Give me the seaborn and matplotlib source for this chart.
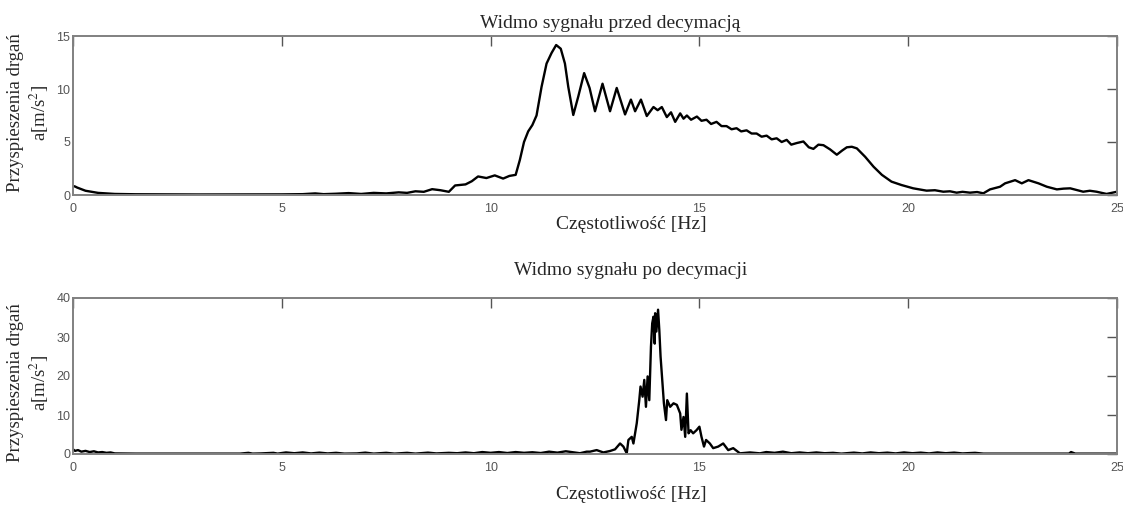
import matplotlib
matplotlib.use("Agg")
import matplotlib.pyplot as plt
import seaborn as sns
import pandas as pd

# ---------------- data ----------------
top_freq = [0.0, 0.05, 0.1, 0.2, 0.3, 0.45, 0.6, 0.8, 1.0, 1.5, 2.0, 3.0, 4.0, 5.0,
            5.5, 5.8, 6.0, 6.3, 6.6, 6.9, 7.2, 7.5, 7.8, 8.0, 8.2, 8.4, 8.6, 8.8,
            9.0, 9.15, 9.4, 9.55, 9.7, 9.9, 10.1, 10.3, 10.45, 10.6, 10.7, 10.8,
            10.9, 11.0, 11.1, 11.22, 11.34, 11.46, 11.57, 11.68, 11.78, 11.86,
            11.98, 12.1, 12.24, 12.37, 12.5, 12.68, 12.86, 13.02, 13.22, 13.36,
            13.46, 13.6, 13.74, 13.9, 14.0, 14.1, 14.22, 14.32, 14.42, 14.54,
            14.62, 14.7, 14.8, 14.94, 15.05, 15.17, 15.28, 15.41, 15.53, 15.65,
            15.77, 15.89, 16.0, 16.13, 16.25, 16.37, 16.49, 16.61, 16.73, 16.85,
            16.97, 17.09, 17.2, 17.33, 17.49, 17.62, 17.73, 17.85, 17.97, 18.13,
            18.29, 18.42, 18.53, 18.65, 18.77, 18.97, 19.17, 19.37, 19.6, 19.84,
            20.12, 20.44, 20.64, 20.84, 21.0, 21.16, 21.3, 21.48, 21.65, 21.8,
            21.96, 22.2, 22.32, 22.56, 22.72, 22.88, 23.12, 23.32, 23.56, 23.72,
            23.88, 24.05, 24.19, 24.35, 24.51, 24.75, 25.0]
top_amp = [0.85, 0.8, 0.7, 0.55, 0.4, 0.3, 0.2, 0.15, 0.1, 0.07, 0.06, 0.05, 0.05, 0.06,
           0.08, 0.15, 0.08, 0.12, 0.18, 0.1, 0.2, 0.15, 0.25, 0.2, 0.35, 0.3, 0.55, 0.45,
           0.3, 0.9, 1.0, 1.3, 1.75, 1.6, 1.85, 1.55, 1.8, 1.9, 3.3, 5.0,
           6.0, 6.6, 7.5, 10.2, 12.4, 13.4, 14.15, 13.8, 12.4, 10.2,
           7.55, 9.3, 11.5, 10.1, 7.9, 10.5, 7.9, 10.1, 7.6, 9.0,
           7.9, 9.0, 7.45, 8.3, 8.0, 8.3, 7.35, 7.8, 6.9, 7.7,
           7.2, 7.5, 7.1, 7.4, 7.0, 7.1, 6.7, 6.9, 6.5, 6.5,
           6.2, 6.3, 6.0, 6.1, 5.8, 5.8, 5.5, 5.6, 5.25, 5.35,
           5.0, 5.2, 4.75, 4.9, 5.05, 4.5, 4.35, 4.75, 4.7, 4.3,
           3.8, 4.2, 4.5, 4.55, 4.4, 3.6, 2.67, 1.9, 1.26, 0.94,
           0.63, 0.41, 0.45, 0.31, 0.35, 0.22, 0.3, 0.22, 0.28, 0.16,
           0.53, 0.78, 1.1, 1.4, 1.1, 1.4, 1.1, 0.78, 0.53, 0.6,
           0.63, 0.45, 0.31, 0.4, 0.31, 0.1, 0.31]

bot_freq = [0.0, 0.05, 0.12, 0.2, 0.3, 0.4, 0.5, 0.6, 0.7, 0.8, 0.9, 1.0, 1.5, 2.0,
            3.0, 4.0, 4.2, 4.3, 4.5, 4.8, 4.9, 5.1, 5.3, 5.5, 5.7, 5.9, 6.1, 6.3,
            6.5, 6.8, 7.0, 7.2, 7.5, 7.7, 8.0, 8.2, 8.5, 8.7, 9.0, 9.2, 9.4, 9.6,
            9.8, 10.0, 10.2, 10.4, 10.6, 10.8, 11.0, 11.2, 11.4, 11.6, 11.8, 12.0,
            12.14, 12.3, 12.38, 12.54, 12.7, 12.86, 12.98, 13.1, 13.18, 13.26,
            13.3, 13.38, 13.42, 13.5, 13.56, 13.59, 13.64, 13.68, 13.72, 13.76,
            13.8, 13.84, 13.87, 13.9, 13.93, 13.94, 13.97, 14.01, 14.04, 14.07,
            14.11, 14.15, 14.2, 14.23, 14.3, 14.38, 14.46, 14.54, 14.57, 14.62,
            14.66, 14.7, 14.74, 14.79, 14.85, 14.93, 15.0, 15.05, 15.11, 15.16,
            15.25, 15.33, 15.45, 15.57, 15.69, 15.81, 15.97, 16.21, 16.45, 16.6,
            16.8, 17.0, 17.2, 17.4, 17.6, 17.8, 18.0, 18.2, 18.4, 18.7, 18.9,
            19.1, 19.3, 19.5, 19.7, 19.9, 20.1, 20.3, 20.5, 20.7, 20.9, 21.1,
            21.3, 21.6, 21.8, 22.0, 23.0, 23.85, 23.9, 24.0, 25.0]
bot_amp = [1.2, 0.8, 1.0, 0.6, 0.8, 0.5, 0.7, 0.4, 0.5, 0.3, 0.4, 0.15, 0.1, 0.1,
           0.1, 0.1, 0.3, 0.1, 0.15, 0.3, 0.1, 0.4, 0.2, 0.4, 0.15, 0.35, 0.15, 0.3,
           0.1, 0.15, 0.35, 0.1, 0.3, 0.1, 0.3, 0.1, 0.35, 0.15, 0.3, 0.2, 0.4, 0.2,
           0.5, 0.3, 0.5, 0.25, 0.5, 0.3, 0.45, 0.25, 0.6, 0.35, 0.7, 0.4,
           0.2, 0.6, 0.6, 1.0, 0.4, 0.77, 1.2, 2.7, 1.9, 0.17,
           3.6, 4.4, 2.7, 7.9, 13.8, 17.3, 14.7, 19.0, 12.1, 19.9,
           13.8, 27.5, 33.5, 35.2, 28.3, 36.1, 31.4, 37.0, 31.8, 25.0,
           19.0, 13.0, 8.7, 13.8, 12.1, 13.0, 12.6, 10.4, 6.2, 9.5,
           4.4, 15.5, 5.3, 6.1, 5.3, 6.1, 7.0, 4.4, 1.9, 3.6,
           2.7, 1.5, 1.9, 2.7, 1.0, 1.5, 0.17, 0.4, 0.17, 0.5,
           0.3, 0.6, 0.2, 0.4, 0.2, 0.4, 0.2, 0.3, 0.1, 0.35, 0.15,
           0.4, 0.2, 0.35, 0.15, 0.4, 0.2, 0.35, 0.15, 0.4, 0.2, 0.35,
           0.15, 0.3, 0.1, 0.1, 0.1, 0.1, 0.5, 0.1, 0.1]

x_ticks = [0, 5, 10, 15, 20, 25]
top_yticks = [0, 5, 10, 15]
bot_yticks = [0, 10, 20, 30, 40]

top_title = "Widmo sygnału przed decymacją"
bot_title = "Widmo sygnału po decymacji"
x_label = "Częstotliwość [Hz]"
y_label = "Przyspieszenia drgań\na[m/s$^{2}$]"

# ---------------- style ----------------
sns.set_theme(style="white")
plt.rcParams["font.family"] = ["Liberation Serif", "DejaVu Serif"]
plt.rcParams["mathtext.fontset"] = "stix"

W, H = 1123, 505
fig = plt.figure(figsize=(W / 100, H / 100), dpi=100)
ax1 = fig.add_axes([73 / W, 1 - 195 / H, 1044 / W, 159 / H])
ax2 = fig.add_axes([73 / W, 1 - 454 / H, 1044 / W, 156 / H])

df_top = pd.DataFrame({"f": top_freq, "a": top_amp})
df_bot = pd.DataFrame({"f": bot_freq, "a": bot_amp})

for ax, df, yt in [(ax1, df_top, top_yticks), (ax2, df_bot, bot_yticks)]:
    sns.lineplot(data=df, x="f", y="a", ax=ax, color="black", lw=1.7,
                 estimator=None, sort=False)
    ax.set_xlim(0, 25)
    ax.set_ylim(yt[0], yt[-1])
    ax.set_xticks(x_ticks)
    ax.set_yticks(yt)
    ax.set_xlabel("")
    ax.set_ylabel("")
    ax.tick_params(direction="in", length=7, width=1.0, color="#555555",
                   top=True, right=True, labelsize=9, labelcolor="#555555")
    ax.tick_params(axis="x", pad=6)
    ax.tick_params(axis="y", pad=2)
    for lbl in ax.get_xticklabels() + ax.get_yticklabels():
        lbl.set_fontfamily("Liberation Sans")
    for sp in ax.spines.values():
        sp.set_color("#808080")
        sp.set_linewidth(1.4)
    ax.grid(False)

# titles and axis labels
fig.text(610 / W, 1 - 28 / H, top_title, ha="center", va="baseline", fontsize=14)
fig.text(631 / W, 1 - 275 / H, bot_title, ha="center", va="baseline", fontsize=14)
fig.text(631 / W, 1 - 229 / H, x_label, ha="center", va="baseline", fontsize=14)
fig.text(631 / W, 1 - 499 / H, x_label, ha="center", va="baseline", fontsize=14)
fig.text(29 / W, 1 - 113 / H, y_label, ha="center", va="center", rotation=90,
         fontsize=13.5, multialignment="center", linespacing=1.25)
fig.text(29 / W, 1 - 383 / H, y_label, ha="center", va="center", rotation=90,
         fontsize=13.5, multialignment="center", linespacing=1.25)

fig.savefig("out.png", dpi=100)
